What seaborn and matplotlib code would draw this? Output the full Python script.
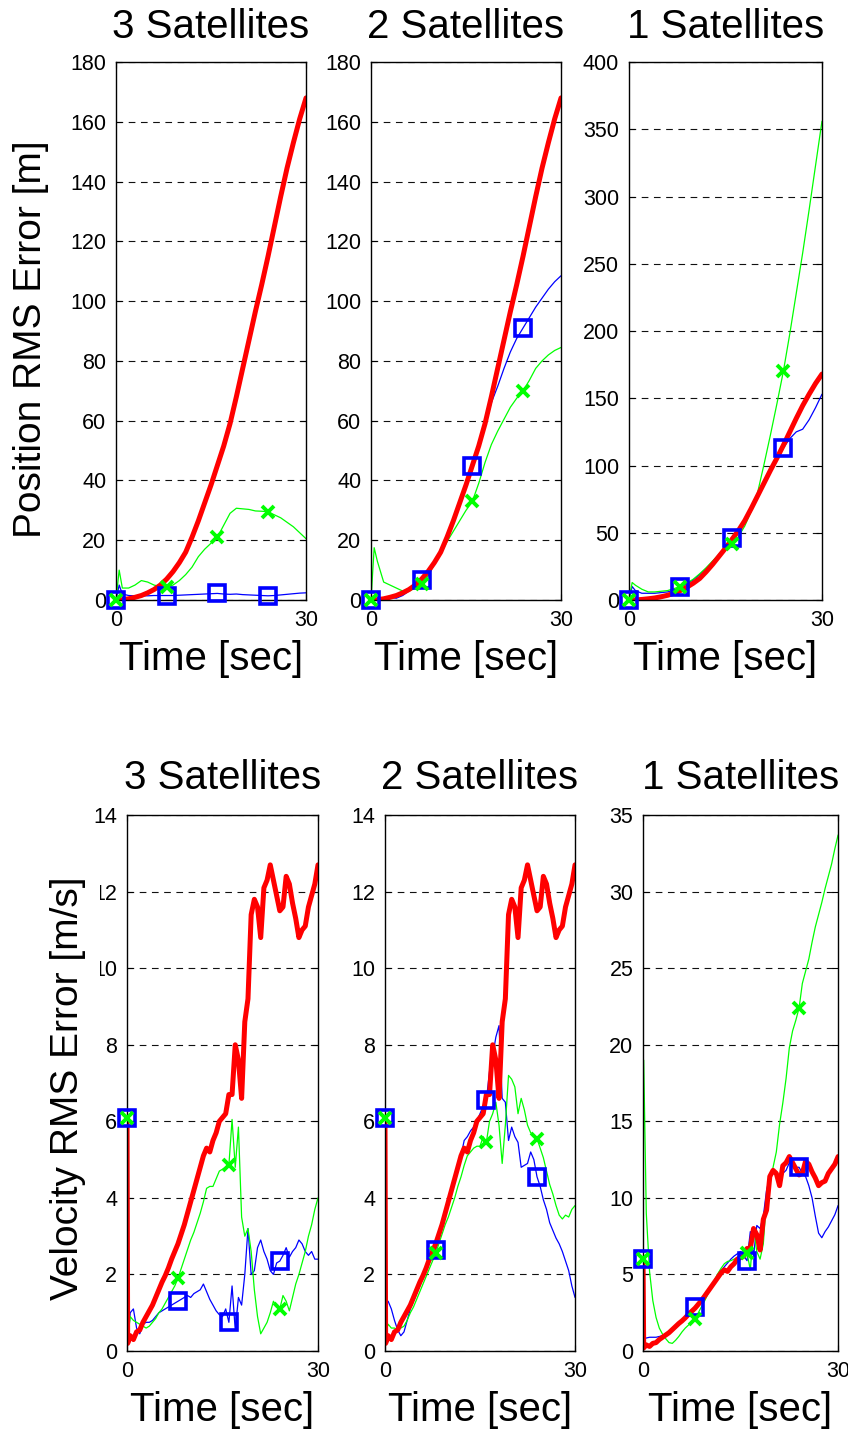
import numpy as np
import pandas as pd
import matplotlib
matplotlib.use("Agg")
import matplotlib.pyplot as plt
import seaborn as sns

# =====================================================
# Data
# =====================================================
# position panels: time grid [s]
t_pos = [0, 0.5, 1, 2, 3, 4, 5, 6, 7, 8, 9, 10, 11, 12, 13, 14, 15,
         16, 17, 18, 19, 20, 21, 22, 23, 24, 25, 26, 27, 28, 29, 30]

# red curve is the same in all three position panels
red_pos = [0, 0.05, 0.1, 0.4, 0.9, 1.5, 2.4, 3.5, 5, 7, 9.5, 12.5, 16, 21, 26.5, 32.5,
           38.5, 45, 51.5, 59, 68, 77.5, 87, 96.5, 105.5, 115, 125, 135, 144.5, 153,
           161, 168]

blue_pos_3 = [0, 5, 2, 1.5, 1.4, 1.4, 1.4, 1.5, 1.5, 1.5, 1.5, 1.6, 1.7, 1.8, 1.9, 2.0,
              2.1, 2.2, 2.0, 1.9, 2.0, 1.8, 1.7, 1.6, 1.5, 1.4, 1.5, 1.7, 1.9, 2.1,
              2.3, 2.4]
green_pos_3 = [0, 10, 4, 4, 5, 6.5, 6, 5, 4.5, 4.3, 5, 6.5, 8.5, 11, 14.5, 17,
               19, 21, 25, 29, 30.7, 30.5, 30.3, 29.8, 29.7, 29.5, 28.5, 27.5, 26, 24.5,
               22.5, 20.5]

blue_pos_2 = [0, 0.3, 0.5, 0.8, 0.8, 0.6, 1.5, 3, 4.8, 6.8, 9.3, 12.3, 16, 21, 26.5, 32,
              38.5, 45, 52, 58.5, 66, 71.5, 77.5, 83, 87.5, 91, 94.5, 98, 101, 104,
              106.5, 108.5]
green_pos_2 = [0, 17.5, 13, 6, 5, 4, 3, 3, 4, 5.2, 8, 12, 15.5, 19.5, 23, 26.5,
               30, 33, 39, 46, 52, 56.5, 60.5, 64.5, 67.5, 70, 73.5, 77.5, 80, 82,
               83.5, 84.5]

blue_pos_1 = [0, 10, 7, 5, 5, 5, 5.5, 6, 7.5, 9.5, 12, 15, 19, 23.5, 28.5, 34,
              40, 46, 52.5, 60, 68, 77, 86.5, 96, 105, 113, 120, 125, 127, 134,
              143, 153]
green_pos_1 = [0, 13, 11, 8, 6, 6, 6.5, 7, 8.5, 10, 12.5, 15.5, 19.5, 24, 29, 34,
               37.5, 41.5, 47, 55, 66, 80, 101, 123, 146, 170, 198, 228, 258, 290,
               323, 356]

# velocity panels: time grid [s]
t_vel = [0, 0.1, 0.5, 1.0, 1.5, 2.0, 2.5, 3.0, 3.5, 4.0,
         4.5, 5.0, 5.5, 6.0, 6.5, 7.0, 7.5, 8.0, 8.5, 9.0,
         9.5, 10.0, 10.5, 11.0, 11.5, 12.0, 12.5, 13.0, 13.5, 14.0,
         14.5, 15.0, 15.5, 16.0, 16.5, 17.0, 17.5, 18.0, 18.5, 19.0,
         19.5, 20.0, 20.5, 21.0, 21.5, 22.0, 22.5, 23.0, 23.5, 24.0,
         24.5, 25.0, 25.5, 26.0, 26.5, 27.0, 27.5, 28.0, 28.5, 29.0,
         29.5, 30.0]

red_vel = [6.1, 0.2, 0.4, 0.3, 0.5, 0.55, 0.75, 0.9, 1.05, 1.2,
           1.4, 1.6, 1.8, 1.97, 2.17, 2.4, 2.6, 2.8, 3.05, 3.3,
           3.6, 3.9, 4.2, 4.5, 4.8, 5.1, 5.3, 5.2, 5.5, 5.7,
           6.0, 6.1, 6.2, 6.7, 6.7, 8.0, 7.6, 6.6, 8.6, 9.2,
           11.4, 11.8, 11.6, 10.8, 12.1, 12.3, 12.7, 12.3, 11.9, 11.5,
           11.6, 12.4, 12.2, 11.7, 11.3, 10.8, 11.0, 11.1, 11.6, 11.9,
           12.2, 12.7]

blue_vel_3 = [6.1, 0.2, 1.0, 1.1, 0.6, 0.45, 0.7, 0.75, 0.75, 0.8,
              0.9, 1.0, 1.05, 1.1, 1.15, 1.2, 1.25, 1.3, 1.35, 1.4,
              1.45, 1.4, 1.5, 1.55, 1.6, 1.75, 1.55, 1.35, 1.2, 1.05,
              0.95, 0.9, 1.1, 0.75, 1.7, 0.55, 1.4, 1.2, 2.0, 3.2,
              2.0, 2.1, 2.7, 2.9, 2.6, 2.4, 2.1, 2.0, 2.3, 2.35,
              2.5, 2.7, 2.45, 2.6, 2.7, 2.9, 2.8, 2.6, 2.5, 2.6,
              2.4, 2.4]
green_vel_3 = [6.1, 0.3, 0.9, 0.8, 0.75, 0.7, 0.65, 0.6, 0.65, 0.75,
               0.85, 1.0, 1.1, 1.25, 1.4, 1.55, 1.7, 1.9, 2.15, 2.4,
               2.65, 2.9, 3.1, 3.35, 3.6, 3.9, 4.25, 4.3, 4.3, 4.5,
               4.7, 4.75, 4.8, 4.85, 6.05, 4.8, 5.85, 3.5, 3.0, 3.2,
               2.6, 1.6, 0.9, 0.45, 0.6, 0.75, 1.0, 1.3, 1.15, 1.1,
               1.45, 1.3, 1.05, 1.4, 1.75, 2.0, 2.3, 2.6, 3.0, 3.3,
               3.7, 4.0]

blue_vel_2 = [6.1, 1.3, 1.3, 1.1, 0.8, 0.55, 0.4, 0.5, 0.8, 1.1,
              1.3, 1.5, 1.7, 1.9, 2.1, 2.3, 2.45, 2.65, 2.9, 3.2,
              3.55, 3.85, 4.1, 4.4, 4.75, 5.1, 5.5, 5.6, 5.75, 5.85,
              6.0, 6.2, 6.4, 6.55, 7.3, 7.7, 8.2, 8.5, 6.6, 6.5,
              5.5, 5.85, 5.6, 5.45, 4.8, 4.85, 4.9, 5.2, 5.0, 4.55,
              4.3, 3.95, 3.7, 3.35, 3.15, 2.95, 2.8, 2.6, 2.35, 2.1,
              1.7, 1.4]
green_vel_2 = [6.1, 0.5, 0.7, 0.6, 0.6, 0.55, 0.6, 0.65, 0.8, 1.0,
               1.15, 1.35, 1.55, 1.75, 1.95, 2.15, 2.35, 2.55, 2.8, 3.05,
               3.3, 3.5, 3.75, 4.0, 4.3, 4.55, 4.85, 5.1, 5.2, 5.3,
               5.35, 5.35, 5.6, 5.45, 6.0, 6.2, 6.5, 5.9, 4.9, 5.9,
               7.2, 7.1, 6.9, 6.2, 6.6, 6.3, 5.9, 5.7, 5.65, 5.55,
               5.3, 5.05, 4.7, 4.35, 4.1, 3.8, 3.55, 3.45, 3.55, 3.5,
               3.7, 3.8]

blue_vel_1 = [6.0, 0.8, 0.85, 0.9, 0.9, 0.9, 0.95, 1.0, 1.05, 1.1,
              1.3, 1.5, 1.75, 2.0, 2.2, 2.4, 2.6, 2.85, 3.05, 3.35,
              3.7, 4.0, 4.3, 4.6, 4.95, 5.25, 5.5, 5.75, 6.0, 6.2,
              6.35, 6.5, 6.2, 5.9, 7.8, 6.2, 8.2, 8.0, 8.8, 10.5,
              11.4, 11.6, 11.5, 11.3, 11.6, 11.8, 12.3, 12.1, 12.0, 12.0,
              11.6, 11.4, 10.8, 10.0, 8.8, 7.7, 7.4, 7.8, 8.1, 8.5,
              8.9, 9.5]
green_vel_1 = [6.0, 19.0, 9.0, 5.2, 3.3, 2.2, 1.5, 1.1, 0.8, 0.55,
               0.5, 0.7, 0.95, 1.25, 1.5, 1.7, 1.9, 2.1, 2.5, 2.9,
               3.3, 3.75, 4.2, 4.65, 5.05, 5.4, 5.7, 5.85, 5.9, 6.0,
               6.1, 6.2, 6.3, 6.4, 5.3, 8.0, 6.5, 6.0, 7.0, 10.0,
               11.0, 12.0, 13.0, 14.8, 16.2, 17.8, 19.8, 20.9, 21.6, 22.4,
               24.0, 24.8, 25.6, 26.7, 27.7, 28.5, 29.3, 30.2, 31.0, 31.8,
               32.8, 33.7]

# marker times (every 8 s)
mark_t = [0, 8, 16, 24]

titles = ["3 Satellites", "2 Satellites", "1 Satellites"]
yticks_pos = [[0, 20, 40, 60, 80, 100, 120, 140, 160, 180],
              [0, 20, 40, 60, 80, 100, 120, 140, 160, 180],
              [0, 50, 100, 150, 200, 250, 300, 350, 400]]
yticks_vel = [[0, 2, 4, 6, 8, 10, 12, 14],
              [0, 2, 4, 6, 8, 10, 12, 14],
              [0, 5, 10, 15, 20, 25, 30, 35]]

# =====================================================
# Style
# =====================================================
sns.set_theme(style="white")
plt.rcParams['font.family'] = ['Liberation Sans', 'DejaVu Sans']
plt.rcParams['text.color'] = 'black'
plt.rcParams['axes.labelcolor'] = 'black'
plt.rcParams['xtick.color'] = 'black'
plt.rcParams['ytick.color'] = 'black'

RED, BLUE, GREEN = '#ff0000', '#0000ff', '#00ff00'

fig = plt.figure(figsize=(8.48, 14.33), dpi=100)

pos_rects = [[0.1368, 0.5813, 0.2241, 0.3754],
             [0.4375, 0.5813, 0.2241, 0.3754],
             [0.7417, 0.5813, 0.2276, 0.3754]]
vel_rects = [[0.1498, 0.0572, 0.2252, 0.3740],
             [0.4540, 0.0572, 0.2241, 0.3740],
             [0.7583, 0.0572, 0.2300, 0.3740]]


def draw_panel(ax, t, red, blue, green, yticks, title, title_pad):
    df = pd.DataFrame({"t": t, "red": red, "blue": blue, "green": green})
    sns.lineplot(data=df, x="t", y="blue", color=BLUE, lw=0.9, ax=ax, zorder=2)
    sns.lineplot(data=df, x="t", y="green", color=GREEN, lw=0.9, ax=ax, zorder=2.1)
    sns.lineplot(data=df, x="t", y="red", color=RED, lw=3.6, ax=ax, zorder=2.5)

    mk = df[df["t"].isin(mark_t)]
    sns.lineplot(data=mk, x="t", y="blue", color=BLUE, linestyle="", marker="s",
                 markersize=11, markerfacecolor="none", markeredgecolor=BLUE,
                 markeredgewidth=2.6, ax=ax, zorder=4, clip_on=False)
    sns.lineplot(data=mk, x="t", y="green", color=GREEN, linestyle="", marker="x",
                 markersize=8, markeredgecolor=GREEN, markeredgewidth=2.8,
                 ax=ax, zorder=5, clip_on=False)

    ax.set_xlim(0, 30)
    ax.set_ylim(yticks[0], yticks[-1])
    ax.set_xticks([0, 30])
    ax.set_yticks(yticks)
    ax.grid(axis="y", color="#111111", linestyle=(0, (6, 5)), linewidth=0.8)
    ax.grid(axis="x", visible=False)
    ax.tick_params(direction="in", length=4, width=0.8, labelsize=15.5, pad=7,
                   right=True, top=True, left=True, bottom=True)
    for s in ax.spines.values():
        s.set_color("black")
        s.set_linewidth(1.0)
    ax.set_title(title, fontsize=29, pad=title_pad)
    ax.set_xlabel("Time [sec]", fontsize=29, labelpad=7)
    ax.set_ylabel("")


pos_blue = [blue_pos_3, blue_pos_2, blue_pos_1]
pos_green = [green_pos_3, green_pos_2, green_pos_1]
vel_blue = [blue_vel_3, blue_vel_2, blue_vel_1]
vel_green = [green_vel_3, green_vel_2, green_vel_1]

axes_top = []
for i in range(3):
    ax = fig.add_axes(pos_rects[i])
    draw_panel(ax, t_pos, red_pos, pos_blue[i], pos_green[i], yticks_pos[i], titles[i], 17)
    axes_top.append(ax)

axes_bot = []
for i in range(3):
    ax = fig.add_axes(vel_rects[i])
    draw_panel(ax, t_vel, red_vel, vel_blue[i], vel_green[i], yticks_vel[i], titles[i], 19)
    axes_bot.append(ax)

axes_top[0].set_ylabel("Position RMS Error [m]", fontsize=28)
axes_top[0].yaxis.set_label_coords(-0.355, 0.485)

axes_bot[0].set_ylabel("Velocity RMS Error [m/s]", fontsize=28,
                       bbox=dict(boxstyle="square,pad=0.35", fc="white", ec="none"))
axes_bot[0].yaxis.set_label_coords(-0.215, 0.49)

fig.savefig("out.png", dpi=100)
